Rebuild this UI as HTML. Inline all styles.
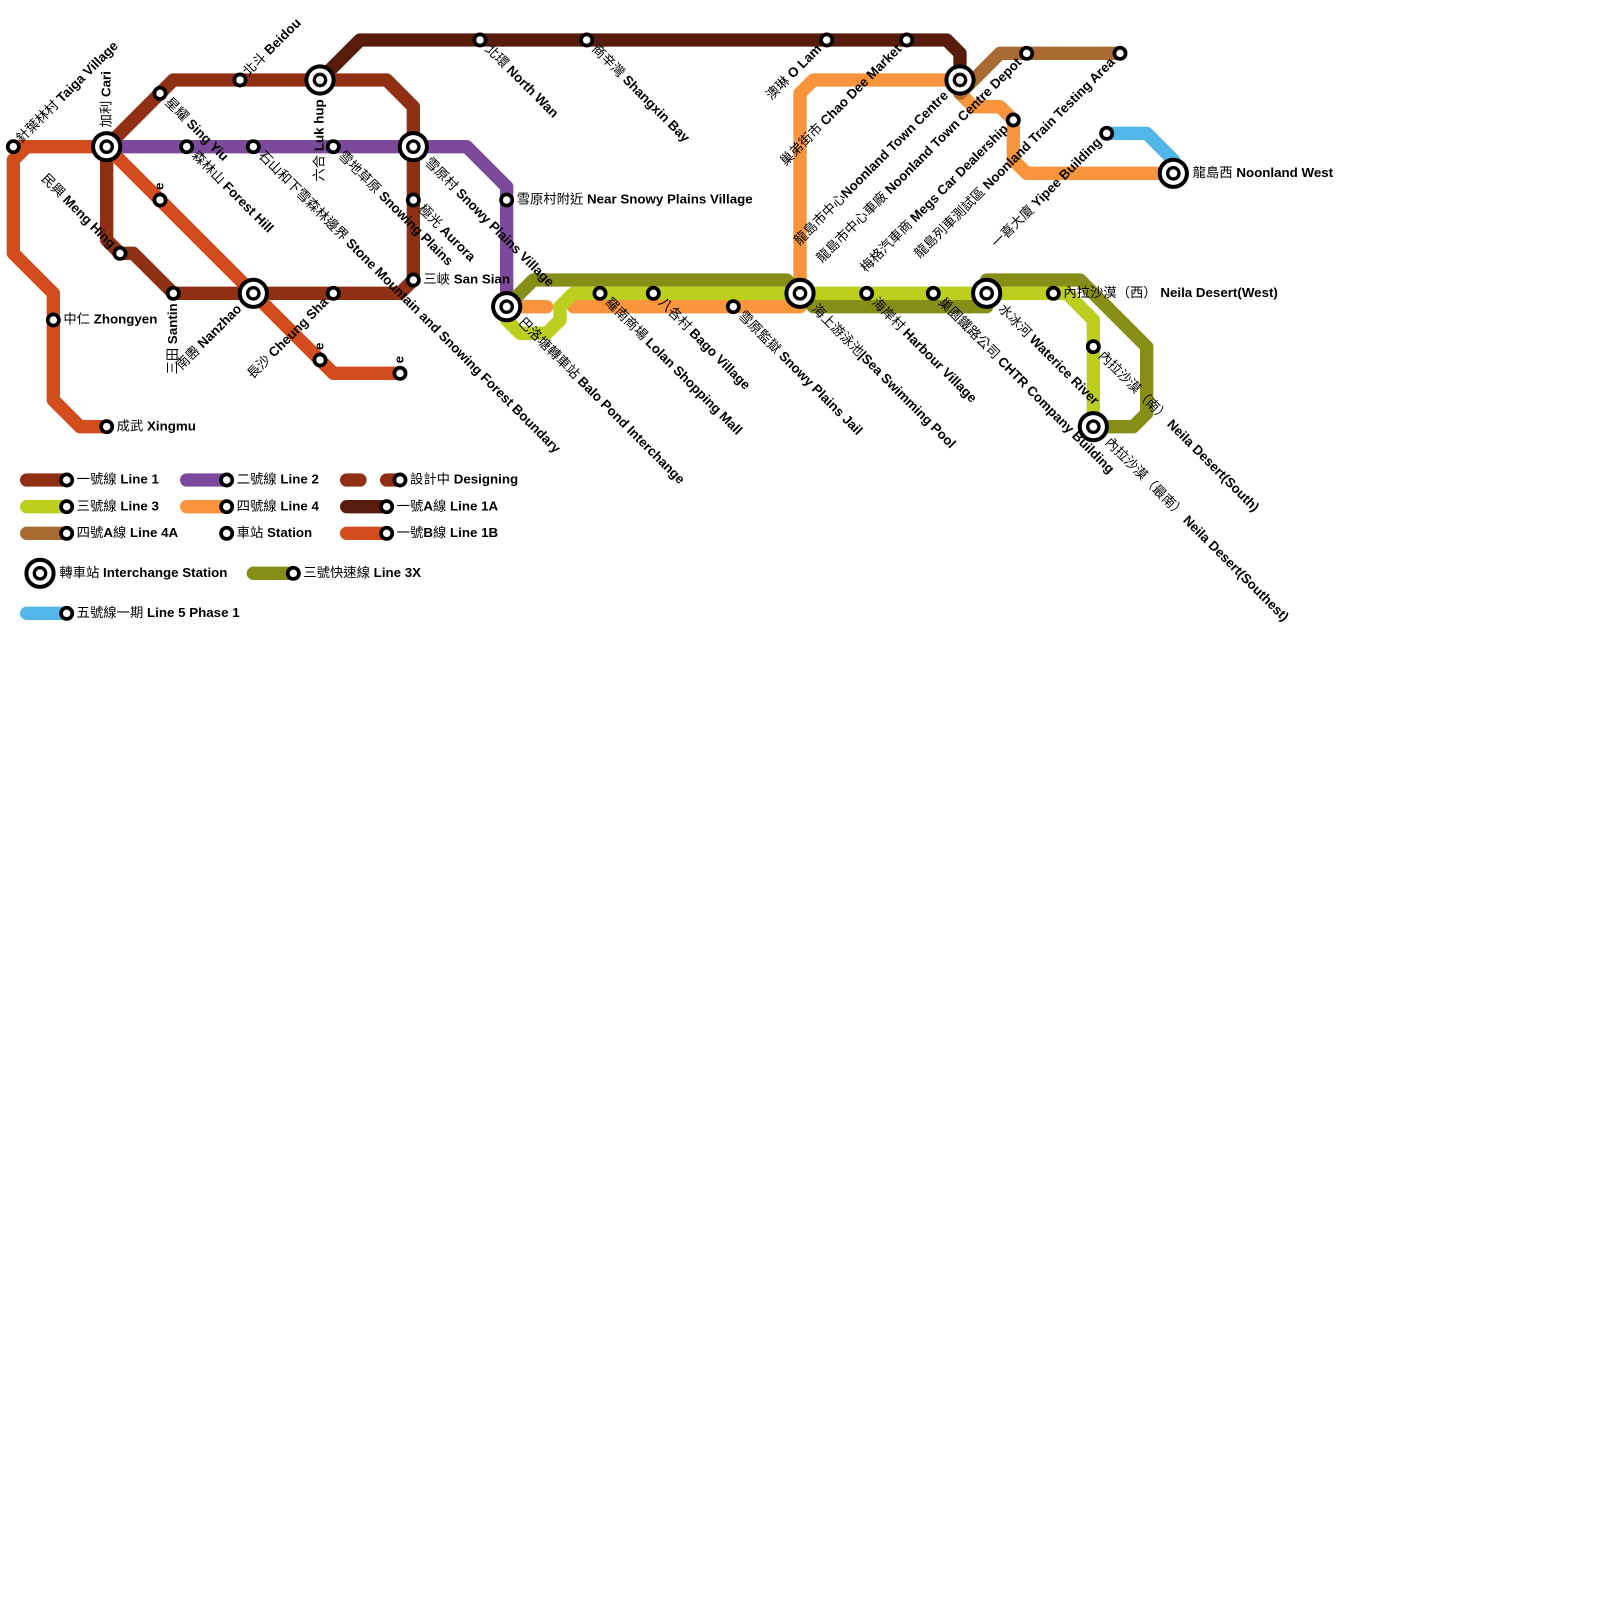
<!DOCTYPE html>
<html><head><meta charset="utf-8"><style>
html,body{margin:0;padding:0;background:#fff}
svg{display:block}
text{font-family:"Liberation Sans","Noto Sans CJK TC",sans-serif;font-size:1px;fill:#000;font-weight:400}
tspan{font-weight:bold}
.l{fill:none;stroke-width:1;stroke-linecap:round;stroke-linejoin:round}
.s{fill:#fff;stroke:#000;stroke-width:.28}
.r1{fill:#fff;stroke:#000;stroke-width:.3}
.r2{fill:#fff;stroke:#000;stroke-width:.25}
</style></head><body>
<svg xmlns="http://www.w3.org/2000/svg" width="1600" height="1600" viewBox="0 0 120 120">
<rect width="120" height="120" fill="#fff"/>
<g class="lines">
<polyline class="l" stroke="#f8953c" points="38,23 41,23"/>
<polyline class="l" stroke="#f8953c" points="43,23 60,23 60,7 61,6 72,6 72,7 73,8 75,8 76,9 76,12 77,13 88,13"/>
<polyline class="l" stroke="#52b6e8" points="83,10 86,10 88,12 88,13"/>
<polyline class="l" stroke="#a96b32" points="72,7 75,4 84,4"/>
<polyline class="l" stroke="#571c0b" points="24,6 27,3 71,3 72,4 72,6"/>
<polyline class="l" stroke="#8f3014" points="8,11 13,6 29,6 31,8 31,21 30,22 13,22 10,19 9,19 8,18 8,11"/>
<polyline class="l" stroke="#d34c1d" points="1,11 8,11"/>
<polyline class="l" stroke="#d34c1d" points="2,11 1,12 1,19 4,22 4,30 6,32 8,32"/>
<polyline class="l" stroke="#d34c1d" points="8,11 24,27 25,28 30,28"/>
<polyline class="l" stroke="#7d4a9b" points="8,11 35,11 38,14 38,23"/>
<polyline class="l" stroke="#868e17" points="38,23 40,21 59,21 61,23 74,23 74,21 81,21 86,26 86,31 85,32 82,32"/>
<polyline class="l" stroke="#bccf1f" points="38,23 38,24 39,25 41,25 42,24 42,23 43,22 80,22 82,24 82,32"/>
</g>
<g>
<circle class="s" cx="1" cy="11" r=".42"/><circle class="s" cx="12" cy="7" r=".42"/><circle class="s" cx="18" cy="6" r=".42"/>
<circle class="s" cx="14" cy="11" r=".42"/><circle class="s" cx="19" cy="11" r=".42"/><circle class="s" cx="25" cy="11" r=".42"/>
<circle class="s" cx="12" cy="15" r=".42"/><circle class="s" cx="31" cy="15" r=".42"/><circle class="s" cx="38" cy="15" r=".42"/>
<circle class="s" cx="9" cy="19" r=".42"/><circle class="s" cx="13" cy="22" r=".42"/><circle class="s" cx="25" cy="22" r=".42"/>
<circle class="s" cx="31" cy="21" r=".42"/><circle class="s" cx="4" cy="24" r=".42"/><circle class="s" cx="24" cy="27" r=".42"/>
<circle class="s" cx="30" cy="28" r=".42"/><circle class="s" cx="8" cy="32" r=".42"/>
<circle class="s" cx="36" cy="3" r=".42"/><circle class="s" cx="44" cy="3" r=".42"/><circle class="s" cx="62" cy="3" r=".42"/><circle class="s" cx="68" cy="3" r=".42"/>
<circle class="s" cx="45" cy="22" r=".42"/><circle class="s" cx="49" cy="22" r=".42"/><circle class="s" cx="55" cy="23" r=".42"/>
<circle class="s" cx="65" cy="22" r=".42"/><circle class="s" cx="70" cy="22" r=".42"/><circle class="s" cx="79" cy="22" r=".42"/>
<circle class="s" cx="82" cy="26" r=".42"/><circle class="s" cx="77" cy="4" r=".42"/><circle class="s" cx="84" cy="4" r=".42"/>
<circle class="s" cx="76" cy="9" r=".42"/><circle class="s" cx="83" cy="10" r=".42"/>
</g>
<g>
<circle class="r1" cx="8" cy="11" r="1.02"/><circle class="r2" cx="8" cy="11" r=".425"/>
<circle class="r1" cx="24" cy="6" r="1.02"/><circle class="r2" cx="24" cy="6" r=".425"/>
<circle class="r1" cx="31" cy="11" r="1.02"/><circle class="r2" cx="31" cy="11" r=".425"/>
<circle class="r1" cx="19" cy="22" r="1.02"/><circle class="r2" cx="19" cy="22" r=".425"/>
<circle class="r1" cx="38" cy="23" r="1.02"/><circle class="r2" cx="38" cy="23" r=".425"/>
<circle class="r1" cx="60" cy="22" r="1.02"/><circle class="r2" cx="60" cy="22" r=".425"/>
<circle class="r1" cx="72" cy="6" r="1.02"/><circle class="r2" cx="72" cy="6" r=".425"/>
<circle class="r1" cx="74" cy="22" r="1.02"/><circle class="r2" cx="74" cy="22" r=".425"/>
<circle class="r1" cx="82" cy="32" r="1.02"/><circle class="r2" cx="82" cy="32" r=".425"/>
<circle class="r1" cx="88" cy="13" r="1.02"/><circle class="r2" cx="88" cy="13" r=".425"/>
</g>
<g>
<text transform="translate(1 11) rotate(-45)" x=".6" y=".28">針葉林村 <tspan>Taiga Village</tspan></text>
<text transform="translate(8 11) rotate(-90)" x="1.45" y=".28">加利 <tspan>Cari</tspan></text>
<text transform="translate(12 7) rotate(45)" x=".75" y=".28">星耀 <tspan>Sing Yiu</tspan></text>
<text transform="translate(18 6) rotate(-45)" x=".6" y=".28">北斗 <tspan>Beidou</tspan></text>
<text transform="translate(24 6) rotate(-90)" x="-1.45" y=".28" text-anchor="end">六合 <tspan>Luk hup</tspan></text>
<text transform="translate(14 11) rotate(45)" x=".75" y=".28">森林山 <tspan>Forest Hill</tspan></text>
<text transform="translate(19 11) rotate(45)" x=".75" y=".28">石山和下雪森林邊界 <tspan>Stone Mountain and Snowing Forest Boundary</tspan></text>
<text transform="translate(25 11) rotate(45)" x=".75" y=".28">雪地草原 <tspan>Snowing Plains</tspan></text>
<text transform="translate(31 11) rotate(45)" x="1.45" y=".28">雪原村 <tspan>Snowy Plains Village</tspan></text>
<text transform="translate(31 15) rotate(45)" x=".75" y=".28">極光 <tspan>Aurora</tspan></text>
<text x="31.75" y="21.28">三峽 <tspan>San Sian</tspan></text>
<text x="38.75" y="15.28">雪原村附近 <tspan>Near Snowy Plains Village</tspan></text>
<text transform="translate(12 15) rotate(-90)" x=".75" y=".28"><tspan>e</tspan></text>
<text transform="translate(24 27) rotate(-90)" x=".75" y=".28"><tspan>e</tspan></text>
<text transform="translate(30 28) rotate(-90)" x=".75" y=".28"><tspan>e</tspan></text>
<text transform="translate(9 19) rotate(45)" x="-.75" y=".28" text-anchor="end">民興 <tspan>Meng Hing</tspan></text>
<text transform="translate(13 22) rotate(-90)" x="-.75" y=".28" text-anchor="end">三田 <tspan>Santin</tspan></text>
<text transform="translate(19 22) rotate(-45)" x="-1.45" y=".28" text-anchor="end">南嶴 <tspan>Nanzhao</tspan></text>
<text transform="translate(25 22) rotate(-45)" x="-.75" y=".28" text-anchor="end">長沙 <tspan>Cheung Sha</tspan></text>
<text x="4.75" y="24.28">中仁 <tspan>Zhongyen</tspan></text>
<text x="8.75" y="32.28">成武 <tspan>Xingmu</tspan></text>
<text transform="translate(36 3) rotate(45)" x=".75" y=".28">北環 <tspan>North Wan</tspan></text>
<text transform="translate(44 3) rotate(45)" x=".75" y=".28">商辛灣 <tspan>Shangxin Bay</tspan></text>
<text transform="translate(62 3) rotate(-45)" x="-.75" y=".28" text-anchor="end">澳琳 <tspan>O Lam</tspan></text>
<text transform="translate(68 3) rotate(-45)" x="-.75" y=".28" text-anchor="end">巢弟街市 <tspan>Chao Dee Market</tspan></text>
<text transform="translate(72 6) rotate(-45)" x="-1.45" y=".28" text-anchor="end">龍島市中心<tspan>Noonland Town Centre</tspan></text>
<text transform="translate(77 4) rotate(-45)" x="-.75" y=".28" text-anchor="end">龍島市中心車廠 <tspan>Noonland Town Centre Depot</tspan></text>
<text transform="translate(76 9) rotate(-45)" x="-.75" y=".28" text-anchor="end">梅格汽車商 <tspan>Megs Car Dealership</tspan></text>
<text transform="translate(84 4) rotate(-45)" x="-.75" y=".28" text-anchor="end">龍島列車測試區 <tspan>Noonland Train Testing Area</tspan></text>
<text transform="translate(83 10) rotate(-45)" x="-.75" y=".28" text-anchor="end">一喜大廈 <tspan>Yipee Building</tspan></text>
<text x="89.45" y="13.28">龍島西 <tspan>Noonland West</tspan></text>
<text transform="translate(38 23) rotate(45)" x="1.45" y=".28">巴洛塘轉車站 <tspan>Balo Pond Interchange</tspan></text>
<text transform="translate(45 22) rotate(45)" x=".75" y=".28">羅南商場 <tspan>Lolan Shopping Mall</tspan></text>
<text transform="translate(49 22) rotate(45)" x=".75" y=".28">八各村 <tspan>Bago Village</tspan></text>
<text transform="translate(55 23) rotate(45)" x=".75" y=".28">雪原監獄 <tspan>Snowy Plains Jail</tspan></text>
<text transform="translate(60 22) rotate(45)" x="1.45" y=".28">海上游泳池<tspan>|Sea Swimming Pool</tspan></text>
<text transform="translate(65 22) rotate(45)" x=".75" y=".28">海岸村 <tspan>Harbour Village</tspan></text>
<text transform="translate(70 22) rotate(45)" x=".75" y=".28">巢園鐵路公司 <tspan>CHTR Company Building</tspan></text>
<text transform="translate(74 22) rotate(45)" x="1.45" y=".28">水冰河 <tspan>Waterice River</tspan></text>
<text x="79.75" y="22.28">內拉沙漠（西） <tspan>Neila Desert(West)</tspan></text>
<text transform="translate(82 26) rotate(45)" x=".75" y=".28">內拉沙漠（南） <tspan>Neila Desert(South)</tspan></text>
<text transform="translate(82 32) rotate(45)" x="1.45" y=".28">內拉沙漠（最南） <tspan>Neila Desert(Southest)</tspan></text>
</g>
<g>
<polyline class="l" stroke="#8f3014" points="2,36 5,36"/><circle class="s" cx="5" cy="36" r=".42"/><text x="5.75" y="36.28">一號線 <tspan>Line 1</tspan></text>
<polyline class="l" stroke="#7d4a9b" points="14,36 17,36"/><circle class="s" cx="17" cy="36" r=".42"/><text x="17.75" y="36.28">二號線 <tspan>Line 2</tspan></text>
<polyline class="l" stroke="#8f3014" points="26,36 27,36"/><polyline class="l" stroke="#8f3014" points="29,36 30,36"/><circle class="s" cx="30" cy="36" r=".42"/><text x="30.75" y="36.28">設計中 <tspan>Designing</tspan></text>
<polyline class="l" stroke="#bccf1f" points="2,38 5,38"/><circle class="s" cx="5" cy="38" r=".42"/><text x="5.75" y="38.28">三號線 <tspan>Line 3</tspan></text>
<polyline class="l" stroke="#f8953c" points="14,38 17,38"/><circle class="s" cx="17" cy="38" r=".42"/><text x="17.75" y="38.28">四號線 <tspan>Line 4</tspan></text>
<polyline class="l" stroke="#571c0b" points="26,38 29,38"/><circle class="s" cx="29" cy="38" r=".42"/><text x="29.75" y="38.28">一號<tspan>A</tspan>線 <tspan>Line 1A</tspan></text>
<polyline class="l" stroke="#a96b32" points="2,40 5,40"/><circle class="s" cx="5" cy="40" r=".42"/><text x="5.75" y="40.28">四號<tspan>A</tspan>線 <tspan>Line 4A</tspan></text>
<circle class="s" cx="17" cy="40" r=".42"/><text x="17.75" y="40.28">車站 <tspan>Station</tspan></text>
<polyline class="l" stroke="#d34c1d" points="26,40 29,40"/><circle class="s" cx="29" cy="40" r=".42"/><text x="29.75" y="40.28">一號<tspan>B</tspan>線 <tspan>Line 1B</tspan></text>
<circle class="r1" cx="3" cy="43" r="1.02"/><circle class="r2" cx="3" cy="43" r=".425"/><text x="4.45" y="43.28">轉車站 <tspan>Interchange Station</tspan></text>
<polyline class="l" stroke="#868e17" points="19,43 22,43"/><circle class="s" cx="22" cy="43" r=".42"/><text x="22.75" y="43.28">三號快速線 <tspan>Line 3X</tspan></text>
<polyline class="l" stroke="#52b6e8" points="2,46 5,46"/><circle class="s" cx="5" cy="46" r=".42"/><text x="5.75" y="46.28">五號線一期 <tspan>Line 5 Phase 1</tspan></text>
</g>
</svg>
</body></html>
